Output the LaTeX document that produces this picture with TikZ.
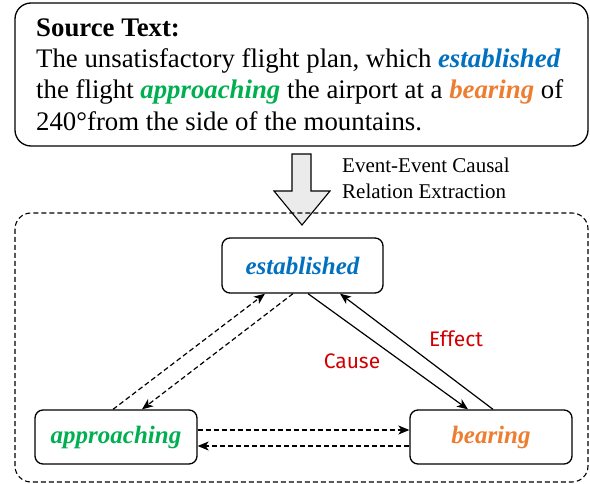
\documentclass[tikz,border=0pt]{standalone}
\usepackage{fontspec}
\setmainfont{Liberation Serif}[BoldFont={Liberation Serif Bold},ItalicFont={Liberation Serif Italic},BoldItalicFont={Liberation Serif Bold Italic}]
\newfontface\evfont{Liberation Serif Bold Italic}
\newfontfamily\labfont{Fira Sans}
\usetikzlibrary{arrows.meta}
\definecolor{evblue}{HTML}{0070C0}
\definecolor{evgreen}{HTML}{00B050}
\definecolor{evorange}{HTML}{ED7D31}
\definecolor{evred}{HTML}{D00000}
\begin{document}
\begin{tikzpicture}[x=1pt,y=-1pt,
  evbox/.style={draw,line width=1.3pt,rounded corners=8pt},
  srcline/.style={anchor=base west,inner sep=0pt,font=\fontsize{26.8}{26.8}\selectfont},
  evtext/.style={font=\evfont\fontsize{25}{25}\selectfont},
  rel/.style={line width=1.2pt,-{Stealth[length=11pt,width=9pt,inset=3pt]}},
  drel/.style={rel,dash pattern=on 5pt off 3pt},
  lab/.style={font=\labfont\fontsize{21}{21}\selectfont,text=evred}]
\useasboundingbox (0,0) rectangle (590,484);
% source box
\draw[evbox,rounded corners=16pt] (15,3) rectangle (588,146);
\node[srcline] (l1) at (36,37) {\bfseries Source Text:};
\node[srcline] (l2) at (36,68) {The unsatisfactory flight plan, which \textcolor{evblue}{\evfont established}};
\node[srcline] (l3) at (36,99) {the flight \textcolor{evgreen}{\evfont approaching} the airport at a \textcolor{evorange}{\evfont bearing} of};
\node[srcline] (l4) at (36,131) {240°from the side of the mountains.};
% big arrow
\draw[line width=1.1pt,fill=black!8] (292,154) -- (311,154) -- (311,191) -- (330,191) -- (302,225) -- (274,191) -- (292,191) -- cycle;
\node[anchor=base west,inner sep=0pt,font=\fontsize{21}{21}\selectfont] (t1) at (342,173) {Event-Event Causal};
\node[anchor=base west,inner sep=0pt,font=\fontsize{21}{21}\selectfont] (t2) at (342,199) {Relation Extraction};
% container
\draw[line width=1.1pt,dash pattern=on 5pt off 3pt,rounded corners=16pt] (15,213) rectangle (588,482);
% event nodes
\node[evbox,minimum width=161pt,minimum height=55pt,evtext,text=evblue] (est) at (302.5,265.5) {established};
\node[evbox,minimum width=162pt,minimum height=54pt,evtext,text=evgreen] (app) at (116,437) {approaching};
\node[evbox,minimum width=162pt,minimum height=54pt,evtext,text=evorange] (bea) at (491,437) {bearing};
% relations
\draw[drel] (app.north -| 113,0) -- (est.south -| 265,0);
\draw[drel] (est.south -| 293,0) -- (app.north -| 142,0);
\draw[rel] (est.south -| 308,0) -- (bea.north -| 468,0);
\draw[rel] (bea.north -| 493,0) -- (est.south -| 340,0);
\draw[drel] (app.east |- 0,430) -- (bea.west |- 0,430);
\draw[drel] (bea.west |- 0,446) -- (app.east |- 0,446);
\node[lab] (cause) at (352,361) {Cause};
\node[lab] (effect) at (456,339) {Effect};
\end{tikzpicture}
\end{document}
